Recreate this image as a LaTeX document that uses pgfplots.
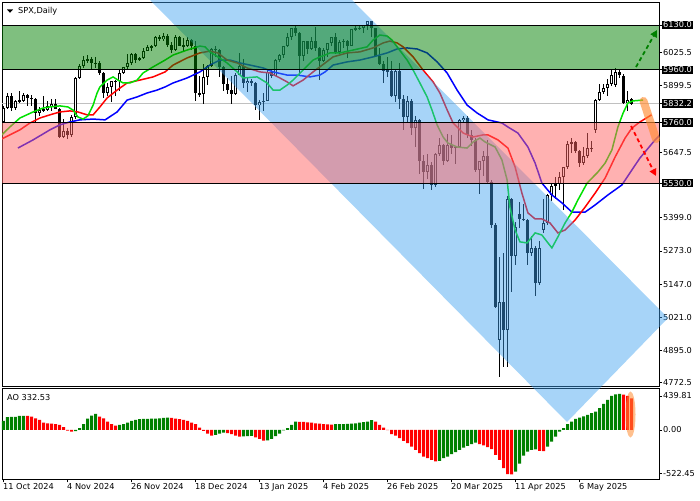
\documentclass[border=0pt]{standalone}
\usepackage{pgfplots}
\usepackage{pgfplotstable}
\pgfplotsset{compat=1.18}
\usetikzlibrary{arrows.meta}
\usepackage{fontspec}
\setmainfont{DejaVu Sans}
\definecolor{lipc}{RGB}{0,225,0}
\definecolor{teethc}{RGB}{255,0,0}
\definecolor{jawc}{RGB}{0,0,255}
\definecolor{zgreen}{RGB}{0,128,0}
\definecolor{zred}{RGB}{255,100,100}
\definecolor{chan}{RGB}{60,160,240}
\definecolor{aog}{RGB}{0,128,0}
\definecolor{aor}{RGB}{255,0,0}
\definecolor{orng}{RGB}{255,140,50}

\pgfplotstableread{
i o h l c
0 5762 5822 5760 5815
1 5815 5871 5812 5859
2 5859 5871 5804 5815
3 5815 5846 5809 5843
4 5843 5879 5835 5841
5 5841 5872 5836 5864
6 5864 5868 5824 5853
7 5853 5863 5822 5851
8 5851 5853 5762 5797
9 5797 5817 5784 5809
10 5809 5862 5800 5808
11 5808 5843 5805 5823
12 5823 5848 5802 5832
13 5832 5851 5811 5813
14 5813 5815 5703 5705
15 5705 5772 5700 5729
16 5729 5741 5696 5713
17 5713 5790 5706 5782
18 5782 5933 5775 5929
19 5929 5983 5925 5973
20 5973 6012 5965 5996
21 5996 6018 5986 6001
22 6001 6009 5960 5984
23 5984 6008 5966 5985
24 5985 5994 5942 5949
25 5949 5952 5853 5871
26 5871 5909 5862 5894
27 5894 5919 5838 5917
28 5917 5921 5860 5917
29 5917 5964 5880 5949
30 5949 5972 5944 5970
31 5970 6021 5963 5987
32 5987 6025 5980 6021
33 6021 6025 5984 5998
34 5998 6010 5995 6005
35 6005 6044 6000 6032
36 6032 6053 6030 6047
37 6047 6055 6033 6049
38 6049 6087 6045 6086
39 6086 6093 6069 6075
40 6075 6099 6070 6090
41 6090 6095 6048 6053
42 6053 6066 6024 6034
43 6034 6092 6030 6085
44 6085 6088 6051 6051
45 6051 6079 6030 6051
46 6051 6085 6045 6074
47 6074 6078 6035 6051
48 6051 6070 5840 5872
49 5872 5935 5855 5867
50 5867 5982 5832 5931
51 5931 5978 5902 5975
52 5975 6041 5970 6040
53 6040 6049 6008 6037
54 6037 6040 5932 5971
55 5971 5975 5879 5907
56 5907 5929 5869 5882
57 5882 5935 5829 5869
58 5869 5949 5865 5942
59 5942 6022 5940 5975
60 5975 6000 5890 5909
61 5909 5928 5874 5918
62 5918 5925 5900 5910
63 5910 5915 5809 5827
64 5827 5845 5769 5837
65 5837 5871 5802 5843
66 5843 5960 5840 5950
67 5950 5964 5930 5937
68 5937 6000 5935 5997
69 5997 6020 5990 6015
70 6015 6051 6006 6049
71 6049 6100 6045 6086
72 6086 6119 6074 6119
73 6119 6128 6089 6101
74 6101 6105 5940 6012
75 6012 6069 5995 6068
76 6068 6070 6019 6039
77 6039 6086 6035 6071
78 6071 6121 6030 6041
79 6041 6045 5923 5994
80 5994 6042 5990 6037
81 6037 6062 6007 6061
82 6061 6084 6049 6083
83 6083 6101 6020 6026
84 6026 6073 6020 6066
85 6066 6076 6043 6069
86 6069 6072 6004 6052
87 6052 6116 6050 6115
88 6115 6128 6107 6115
89 6115 6125 6110 6120
90 6120 6130 6099 6129
91 6129 6147 6111 6144
92 6144 6146 6084 6117
93 6117 6120 6008 6013
94 6013 6043 5977 5983
95 5983 5993 5908 5955
96 5955 6010 5932 5956
97 5956 5994 5858 5861
98 5861 5959 5837 5955
99 5955 5986 5810 5850
100 5850 5865 5732 5779
101 5779 5860 5762 5843
102 5843 5850 5711 5739
103 5739 5783 5667 5770
104 5770 5775 5565 5615
105 5615 5636 5509 5572
106 5572 5642 5546 5599
107 5599 5610 5504 5522
108 5522 5645 5515 5639
109 5639 5703 5631 5675
110 5675 5680 5597 5615
111 5615 5715 5610 5675
112 5675 5711 5640 5663
113 5663 5670 5603 5668
114 5668 5775 5665 5768
115 5768 5786 5758 5777
116 5777 5784 5703 5712
117 5712 5732 5670 5693
118 5693 5700 5572 5581
119 5581 5612 5489 5612
120 5612 5650 5558 5633
121 5633 5695 5530 5535
122 5535 5540 5360 5371
123 5371 5380 5055 5060
124 4935 5250 4794 5079
125 5079 5265 4832 4973
126 4973 5482 4832 5470
127 5470 5475 5116 5252
128 5252 5381 5220 5363
129 5413 5459 5358 5394
130 5394 5450 5386 5390
131 5390 5395 5221 5265
132 5265 5328 5255 5283
133 5283 5290 5102 5151
134 5151 5309 5145 5284
135 5352 5469 5340 5379
136 5379 5490 5371 5485
137 5485 5529 5462 5519
138 5519 5553 5468 5525
139 5525 5571 5505 5553
140 5553 5591 5428 5591
141 5591 5690 5585 5680
142 5680 5700 5644 5687
143 5687 5690 5643 5650
144 5650 5655 5593 5607
145 5607 5668 5598 5631
146 5631 5721 5625 5664
147 5664 5691 5647 5660
148 5732 5850 5720 5845
149 5845 5906 5840 5875
150 5875 5906 5868 5890
151 5890 5924 5862 5905
152 5905 5959 5900 5940
153 5902 5966 5895 5952
154 5952 5962 5929 5940
155 5935 5944 5830 5834
156 5834 5878 5805 5845
157 5850 5853 5827 5832
}\ohlc

\pgfplotstableread{
i p
-0.9 5706
1.6 5743
4.1 5777
7.4 5800
9.9 5815
11.6 5819
14.1 5823
16.1 5819
17.4 5807
18.6 5781
19.9 5773
21.1 5785
22.4 5826
23.4 5872
24.1 5895
25.9 5921
27.4 5933
28.6 5921
29.9 5910
31.6 5910
33.4 5921
34.9 5948
37.4 5971
40.4 5997
42.4 6016
45.9 6035
49.1 6050
50.4 6047
51.6 6028
53.6 6009
55.9 5986
58.4 5952
59.9 5929
63.4 5933
65.9 5910
67.4 5883
69.1 5883
70.9 5902
72.4 5921
74.9 5959
77.4 5997
79.1 6009
80.4 6016
81.6 6024
84.1 6024
87.4 6035
90.9 6047
92.4 6073
94.1 6092
95.9 6088
97.1 6073
98.4 6047
100.9 5997
102.4 5959
104.1 5910
105.9 5857
107.1 5808
108.4 5751
109.9 5705
111.1 5682
113.4 5667
115.9 5663
117.4 5686
119.1 5701
120.4 5686
122.9 5667
124.6 5618
125.9 5542
126.6 5439
127.9 5352
129.1 5307
130.9 5303
132.9 5341
134.6 5333
135.9 5307
137.1 5284
138.6 5326
140.4 5379
142.1 5420
143.6 5466
145.9 5530
148.6 5572
150.4 5606
152.1 5656
153.6 5743
154.9 5796
156.1 5834
157.4 5842
159.9 5845
}\lips

\pgfplotstableread{
i p
-0.9 5694
1.6 5713
4.1 5732
6.6 5758
9.1 5777
11.6 5789
14.1 5800
16.6 5804
18.6 5800
20.9 5789
22.4 5789
24.1 5819
25.9 5853
28.4 5883
30.9 5910
34.1 5921
37.4 5933
40.4 5952
42.4 5978
45.9 6005
49.1 6024
51.6 6031
53.6 6024
55.9 5997
58.4 5986
60.9 5967
64.1 5952
66.6 5948
69.1 5929
70.9 5914
72.4 5899
74.9 5921
77.4 5952
80.4 5986
82.4 6009
85.9 6024
89.1 6028
92.4 6043
94.9 6062
96.6 6069
98.4 6062
99.9 6047
102.4 6009
104.9 5959
107.4 5914
109.1 5872
110.9 5808
112.4 5758
114.9 5720
117.4 5705
119.9 5713
121.1 5713
123.6 5694
126.1 5663
127.9 5591
129.6 5492
131.1 5417
132.9 5394
134.6 5394
136.6 5379
138.6 5341
140.4 5352
142.9 5390
145.4 5439
147.9 5492
150.4 5549
152.9 5629
155.4 5701
157.1 5739
159.1 5762
162.0 5789
}\teeth

\pgfplotstableread{
i p
3.6 5663
7.4 5694
11.6 5732
14.1 5751
16.6 5762
19.1 5770
22.4 5773
25.4 5770
28.4 5800
30.9 5845
33.4 5857
35.9 5872
38.4 5883
40.4 5895
42.4 5910
45.9 5929
49.1 5952
51.6 5978
54.1 5997
56.6 5997
59.1 5986
61.6 5978
64.9 5967
67.4 5952
70.9 5940
73.4 5940
76.6 5933
79.1 5940
80.4 5952
82.4 5978
85.9 5990
89.1 5997
92.4 6009
95.9 6024
98.4 6039
100.9 6043
103.4 6039
105.9 6024
108.4 5990
110.9 5948
113.4 5883
115.9 5826
118.4 5796
120.4 5777
121.1 5770
124.6 5758
126.1 5743
128.6 5720
131.1 5667
132.9 5606
134.6 5530
137.1 5485
139.6 5455
142.1 5420
145.4 5420
147.9 5447
151.1 5485
154.6 5523
157.1 5580
159.1 5625
162.9 5694
164.6 5720
}\jaw

\pgfplotstableread{
i v g
0 95 1
1 134 1
2 137 1
3 138 1
4 148 1
5 149 1
6 147 0
7 141 0
8 123 0
9 106 0
10 77 0
11 70 0
12 67 0
13 60 0
14 53 0
15 28 0
16 -7 0
17 -18 0
18 -14 1
19 18 1
20 60 1
21 120 1
22 151 1
23 169 1
24 141 0
25 123 0
26 88 0
27 60 0
28 46 0
29 53 1
30 60 1
31 77 1
32 95 1
33 106 1
34 113 1
35 116 1
36 117 1
37 118 1
38 120 1
39 123 1
40 127 1
41 130 1
42 127 0
43 120 0
44 113 0
45 106 0
46 95 0
47 77 0
48 60 0
49 25 0
50 -10 0
51 -40 0
52 -60 0
53 -53 1
54 -40 1
55 -30 1
56 -35 0
57 -45 0
58 -60 0
59 -70 0
60 -68 1
61 -66 1
62 -64 1
63 -78 0
64 -95 0
65 -113 0
66 -110 1
67 -95 1
68 -67 1
69 -40 1
70 -5 1
71 18 1
72 53 1
73 88 1
74 86 0
75 84 0
76 80 0
77 77 0
78 70 0
79 67 0
80 60 0
81 58 0
82 56 0
83 60 1
84 61 1
85 62 1
86 63 1
87 65 1
88 70 1
89 77 1
90 81 1
91 88 1
92 102 1
93 88 0
94 53 0
95 25 0
96 -3 0
97 -46 0
98 -60 0
99 -88 0
100 -116 0
101 -141 0
102 -176 0
103 -211 0
104 -246 0
105 -282 0
106 -299 0
107 -317 0
108 -334 0
109 -327 1
110 -299 1
111 -282 1
112 -257 1
113 -236 1
114 -211 1
115 -187 1
116 -169 1
117 -151 1
118 -134 1
119 -151 0
120 -165 0
121 -183 0
122 -204 0
123 -264 0
124 -317 0
125 -405 0
126 -468 0
127 -470 0
128 -440 1
129 -356 1
130 -271 1
131 -229 1
132 -211 1
133 -205 1
134 -222 0
135 -225 0
136 -176 1
137 -123 1
138 -70 1
139 -18 1
140 18 1
141 60 1
142 88 1
143 116 1
144 130 1
145 144 1
146 158 1
147 176 1
148 194 1
149 229 1
150 275 1
151 317 1
152 359 1
153 376 1
154 380 1
155 373 0
156 359 0
157 332.53 0
}\ao

\begin{document}
\begin{tikzpicture}
\begin{scope}[x=1pt,y=1pt]
\path[use as bounding box] (0,0) rectangle (700,500);
\end{scope}

% ---------------- main price panel ----------------
\begin{axis}[
  at={(2pt,114pt)}, anchor=south west, scale only axis,
  width=657pt, height=384pt,
  xmin=-0.375, xmax=163.875, ymin=4760, ymax=6217.3,
  axis line style={black, line width=0.8pt},
  xtick=\empty,
  ytick={4772.5,4895,5021,5147,5273,5399,5647.5,5899.5,6025.5},
  yticklabels={4772.5,4895.0,5021.0,5147.0,5273.0,5399.0,5647.5,5899.5,6025.5},
  ytick pos=right, yticklabel pos=right,
  tick align=outside, major tick length=3pt,
  tick style={black, line width=0.6pt},
  yticklabel style={anchor=west, inner sep=1pt, font=\fontsize{8.2}{9}\selectfont},
  extra y ticks={5530,5760,5832.2,5960,6130},
  extra y tick labels={5530.0,5760.0,5832.2,5960.0,6130.0},
  extra y tick style={yticklabel style={fill=black, text=white, inner sep=1pt, anchor=west}},
  clip=true,
]
% bid line
\addplot[color={rgb,255:red,192;green,192;blue,192}, line width=0.8pt, forget plot] coordinates {(-1,5832.2) (170,5832.2)};
% wicks
\addplot[draw=none, mark=none, forget plot,
  error bars/.cd, y dir=both, y explicit, error mark=none,
  error bar style={draw=black, line width=1pt}]
  table[x=i, y expr={0.5*(\thisrow{h}+\thisrow{l})}, y error expr={0.5*(\thisrow{h}-\thisrow{l})}] {\ohlc};
% bodies (black)
\addplot[draw=none, mark=none, forget plot,
  error bars/.cd, y dir=both, y explicit, error mark=none,
  error bar style={draw=black, line width=3pt}]
  table[x=i, y expr={0.5*(\thisrow{o}+\thisrow{c})}, y error expr={max(0.5*abs(\thisrow{c}-\thisrow{o}),1.9)}] {\ohlc};
% hollow interiors for rising candles
\addplot[draw=none, mark=none, forget plot,
  restrict expr to domain={\thisrow{c}-\thisrow{o}}{8:100000},
  error bars/.cd, y dir=both, y explicit, error mark=none,
  error bar style={draw=white, line width=1pt}]
  table[x=i, y expr={0.5*(\thisrow{o}+\thisrow{c})}, y error expr={0.5*(\thisrow{c}-\thisrow{o})-3.8}] {\ohlc};
% alligator lines
\addplot[color=jawc, line width=1.5pt, forget plot] table[x=i, y=p] {\jaw};
\addplot[color=teethc, line width=1.5pt, forget plot] table[x=i, y=p] {\teeth};
\addplot[color=lipc, line width=1.5pt, forget plot] table[x=i, y=p] {\lips};
% zone corners for later drawing
\coordinate (gzA) at (axis cs:-0.375,5960);
\coordinate (gzB) at (axis cs:163.875,6130);
\coordinate (rzA) at (axis cs:-0.375,5530);
\coordinate (rzB) at (axis cs:163.875,5760);
\coordinate (zl1) at (axis cs:-0.375,5760);
\coordinate (zr1) at (axis cs:163.875,5760);
\coordinate (zl2) at (axis cs:-0.375,5960);
\coordinate (zr2) at (axis cs:163.875,5960);
\coordinate (zl3) at (axis cs:-0.375,6130);
\coordinate (zr3) at (axis cs:163.875,6130);
\coordinate (zl4) at (axis cs:-0.375,5530);
\coordinate (zr4) at (axis cs:163.875,5530);
\end{axis}

% ---------------- AO panel ----------------
\begin{axis}[
  at={(2pt,20.7pt)}, anchor=south west, scale only axis,
  width=657pt, height=91pt,
  xmin=-0.375, xmax=163.875, ymin=-522.45, ymax=439.81,
  axis line style={black, line width=0.8pt},
  ybar, bar width=3pt, bar shift=0pt,
  ytick={-458.6,0,358.4}, yticklabels={-522.45,0.00,439.81},
  xtick={0,16,32,48,64,80,96,112,128,144},
  xticklabels={11 Oct 2024,4 Nov 2024,26 Nov 2024,18 Dec 2024,13 Jan 2025,4 Feb 2025,26 Feb 2025,20 Mar 2025,11 Apr 2025,6 May 2025},
  ytick pos=right, yticklabel pos=right, xtick pos=left,
  tick align=outside, major tick length=3pt,
  tick style={black, line width=0.6pt},
  yticklabel style={anchor=west, inner sep=1pt, font=\fontsize{8.2}{9}\selectfont},
  xticklabel style={anchor=north west, inner sep=1pt, xshift=-1.5pt, font=\fontsize{8.2}{9}\selectfont},
  clip=true,
]
\addplot[fill=aog, draw=none, restrict expr to domain={\thisrow{g}}{0.5:1.5}] table[x=i, y=v] {\ao};
\addplot[fill=aor, draw=none, restrict expr to domain={\thisrow{g}}{-0.5:0.5}] table[x=i, y=v] {\ao};
\end{axis}

% ---------------- annotations (pixel coordinates: x, 500-y) ----------------
\begin{scope}[x=1pt,y=1pt]
% descending channel
\fill[chan, opacity=0.45] (150,500) -- (352,500) -- (668,182) -- (567,78) -- cycle;
% zones on top
\fill[zgreen, opacity=0.5] (gzA) rectangle (gzB);
\fill[zred, opacity=0.5] (rzA) rectangle (rzB);
\draw[black, line width=0.8pt] (zl1) -- (zr1);
\draw[black, line width=0.8pt] (zl2) -- (zr2);
\draw[black, line width=0.8pt] (zl3) -- (zr3);
\draw[black, line width=0.8pt] (zl4) -- (zr4);
% AO highlight and forecast marks
\fill[orng, opacity=0.55] (630.5,85.5) ellipse [x radius=5, y radius=23];
\draw[orng, opacity=0.65, line width=8pt, line cap=round] (643.5,399) -- (656,361);
\draw[zgreen, line width=1.8pt, dash pattern=on 4pt off 3pt, -{Triangle[length=7pt,width=7pt]}] (636,433) -- (657,470);
\draw[red, line width=1.8pt, dash pattern=on 4pt off 3pt, -{Triangle[length=7pt,width=7pt]}] (631,374) -- (656,324);
% titles
\fill[black] (7,490.5) -- (13,490.5) -- (10,487.2) -- cycle;
\node[anchor=west, inner sep=0pt, font=\fontsize{8.2}{9}\selectfont] at (18,489) {SPX,Daily};
\node[anchor=west, inner sep=0pt, font=\fontsize{8.2}{9}\selectfont] at (7,102.5) {AO 332.53};
\end{scope}
\end{tikzpicture}
\end{document}
